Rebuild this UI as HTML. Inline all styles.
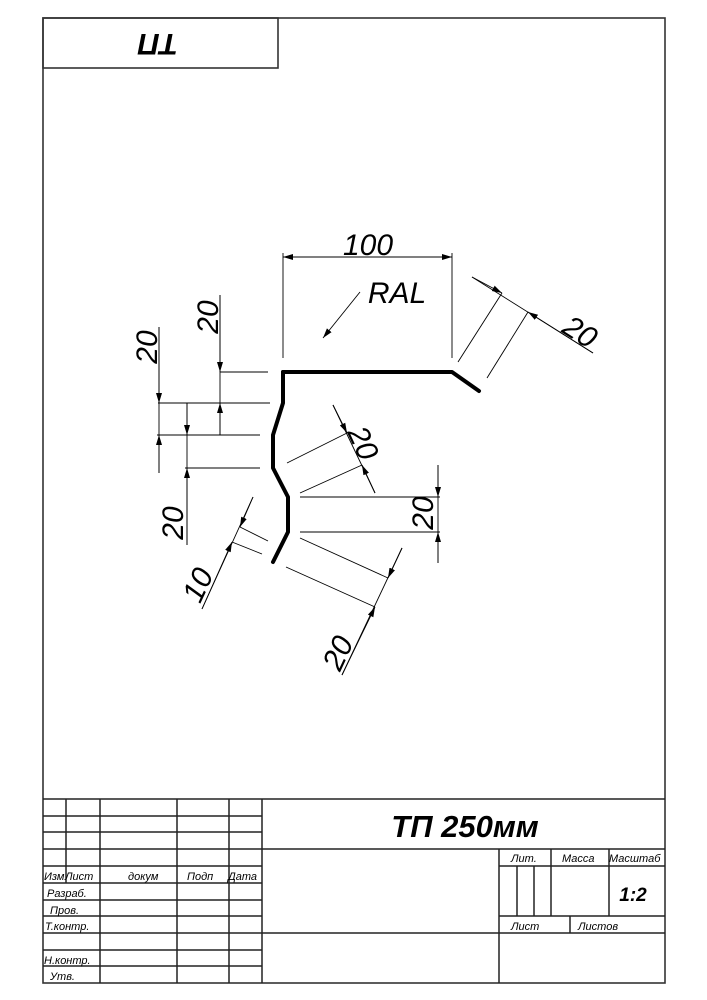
<!DOCTYPE html>
<html><head><meta charset="utf-8"><style>
html,body{margin:0;padding:0;background:#fff}
svg{display:block}
text{font-family:"Liberation Sans",sans-serif;font-style:italic;fill:#000}
</style></head><body>
<svg width="707" height="1000" viewBox="0 0 707 1000" xmlns="http://www.w3.org/2000/svg">
<defs>
<marker id="a" viewBox="0 0 10 10" refX="10" refY="5" markerWidth="10" markerHeight="10" markerUnits="userSpaceOnUse" orient="auto-start-reverse"><path d="M0,2 L10,5 L0,8z" fill="#000"/></marker>
</defs>
<g fill="none" stroke="#333" stroke-width="1.6">
<rect x="43" y="18" width="622" height="965"/>
<rect x="43" y="18" width="235" height="50"/>
</g>
<text x="158" y="45" font-size="30" font-weight="bold" text-anchor="middle" transform="rotate(180 158 45) translate(0 11)">ТП</text>

<!-- profile -->
<polyline points="283,372 452,372 479,391" fill="none" stroke="#000" stroke-width="4" stroke-linecap="round" stroke-linejoin="round"/>
<polyline points="283,372 283,403 273,435 273,468 288,497 288,532 280,548 273,562" fill="none" stroke="#000" stroke-width="4" stroke-linecap="round" stroke-linejoin="round"/>

<g stroke="#000" stroke-width="0.9" fill="none">
<!-- 100 -->
<line x1="283" y1="253" x2="283" y2="358"/><line x1="452" y1="253" x2="452" y2="358"/>
<line x1="283" y1="257" x2="452" y2="257" marker-start="url(#a)" marker-end="url(#a)"/>
<!-- RAL leader -->
<line x1="360" y1="292" x2="323" y2="338" marker-end="url(#a)"/>
<!-- right 20 -->
<line x1="458" y1="362" x2="502" y2="293"/><line x1="487" y1="378" x2="528" y2="312"/>
<line x1="472" y1="277" x2="593" y2="353"/>
<line x1="472" y1="277" x2="502" y2="293" marker-end="url(#a)"/>
<line x1="593" y1="353" x2="528" y2="312" marker-end="url(#a)"/>
<!-- left horizontal extension -->
<line x1="220" y1="372" x2="268" y2="372"/>
<line x1="158" y1="403" x2="270" y2="403"/>
<line x1="157" y1="435" x2="260" y2="435"/>
<line x1="185" y1="468" x2="260" y2="468"/>
<!-- vertical dims -->
<line x1="220" y1="295" x2="220" y2="435"/>
<line x1="220" y1="295" x2="220" y2="372" marker-end="url(#a)"/>
<line x1="220" y1="435" x2="220" y2="403" marker-end="url(#a)"/>
<line x1="159" y1="327" x2="159" y2="473"/>
<line x1="159" y1="327" x2="159" y2="403" marker-end="url(#a)"/>
<line x1="159" y1="473" x2="159" y2="435" marker-end="url(#a)"/>
<line x1="187" y1="403" x2="187" y2="545"/>
<line x1="187" y1="403" x2="187" y2="435" marker-end="url(#a)"/>
<line x1="187" y1="545" x2="187" y2="468" marker-end="url(#a)"/>
<!-- middle diagonal 20 -->
<line x1="287" y1="463" x2="347" y2="433"/><line x1="300" y1="493" x2="362" y2="465"/>
<line x1="333" y1="405" x2="375" y2="493"/>
<line x1="333" y1="405" x2="347" y2="433" marker-end="url(#a)"/>
<line x1="375" y1="493" x2="362" y2="465" marker-end="url(#a)"/>
<!-- right vertical 20 -->
<line x1="300" y1="497" x2="440" y2="497"/><line x1="300" y1="532" x2="440" y2="532"/>
<line x1="438" y1="465" x2="438" y2="563"/>
<line x1="438" y1="465" x2="438" y2="497" marker-end="url(#a)"/>
<line x1="438" y1="563" x2="438" y2="532" marker-end="url(#a)"/>
<!-- 10 -->
<line x1="240" y1="527" x2="268" y2="541"/><line x1="232" y1="542" x2="262" y2="554"/>
<line x1="253" y1="497" x2="202" y2="609"/>
<line x1="253" y1="497" x2="240" y2="527" marker-end="url(#a)"/>
<line x1="202" y1="609" x2="232" y2="542" marker-end="url(#a)"/>
<!-- bottom 20 -->
<line x1="300" y1="538" x2="388" y2="578"/><line x1="286" y1="567" x2="375" y2="607"/>
<line x1="402" y1="548" x2="342" y2="675"/>
<line x1="402" y1="548" x2="388" y2="578" marker-end="url(#a)"/>
<line x1="342" y1="675" x2="375" y2="607" marker-end="url(#a)"/>
</g>
<g font-size="30">
<text x="368" y="255" text-anchor="middle">100</text>
<text x="397" y="303" text-anchor="middle">RAL</text>
<text transform="translate(580,332) rotate(32)" text-anchor="middle" y="10">20</text>
<text transform="translate(208,317) rotate(-90)" text-anchor="middle" y="10">20</text>
<text transform="translate(147,347) rotate(-90)" text-anchor="middle" y="10">20</text>
<text transform="translate(173,523) rotate(-90)" text-anchor="middle" y="10">20</text>
<text transform="translate(363,443) rotate(65)" text-anchor="middle" y="10">20</text>
<text transform="translate(423,513) rotate(-90)" text-anchor="middle" y="10">20</text>
<text transform="translate(198,585) rotate(-65)" text-anchor="middle" y="10">10</text>
<text transform="translate(338,653) rotate(-65)" text-anchor="middle" y="10">20</text>
</g>

<!-- title block -->
<g stroke="#222" stroke-width="1.5" fill="none">
<line x1="43" y1="799" x2="665" y2="799"/>
<line x1="43" y1="816" x2="262" y2="816"/>
<line x1="43" y1="832" x2="262" y2="832"/>
<line x1="43" y1="849" x2="665" y2="849"/>
<line x1="43" y1="866" x2="262" y2="866"/>
<line x1="43" y1="883" x2="262" y2="883"/>
<line x1="43" y1="900" x2="262" y2="900"/>
<line x1="43" y1="916" x2="262" y2="916"/>
<line x1="43" y1="933" x2="665" y2="933"/>
<line x1="43" y1="950" x2="262" y2="950"/>
<line x1="43" y1="966" x2="262" y2="966"/>
<line x1="499" y1="866" x2="665" y2="866"/>
<line x1="499" y1="916" x2="665" y2="916"/>
<line x1="66" y1="799" x2="66" y2="883"/>
<line x1="100" y1="799" x2="100" y2="983"/>
<line x1="177" y1="799" x2="177" y2="983"/>
<line x1="229" y1="799" x2="229" y2="983"/>
<line x1="262" y1="799" x2="262" y2="983"/>
<line x1="499" y1="849" x2="499" y2="983"/>
<line x1="517" y1="866" x2="517" y2="916"/>
<line x1="534" y1="866" x2="534" y2="916"/>
<line x1="551" y1="849" x2="551" y2="916"/>
<line x1="609" y1="849" x2="609" y2="916"/>
<line x1="570" y1="916" x2="570" y2="933"/>
</g>
<text x="465" y="837" font-size="31" font-weight="bold" text-anchor="middle">ТП 250мм</text>
<text x="633" y="901" font-size="19" font-weight="bold" text-anchor="middle">1:2</text>
<g font-size="11">
<text x="44" y="880">Изм</text><text x="65" y="880">Лист</text>
<text x="128" y="880">докум</text><text x="187" y="880">Подп</text><text x="228" y="880">Дата</text>
<text x="47" y="897">Разраб.</text>
<text x="50" y="914">Пров.</text>
<text x="45" y="930">Т.контр.</text>
<text x="44" y="964">Н.контр.</text>
<text x="50" y="980">Утв.</text>
<text x="511" y="862">Лит.</text>
<text x="562" y="862">Масса</text>
<text x="609" y="862">Масштаб</text>
<text x="511" y="930">Лист</text>
<text x="578" y="930">Листов</text>
</g>
</svg>
</body></html>
